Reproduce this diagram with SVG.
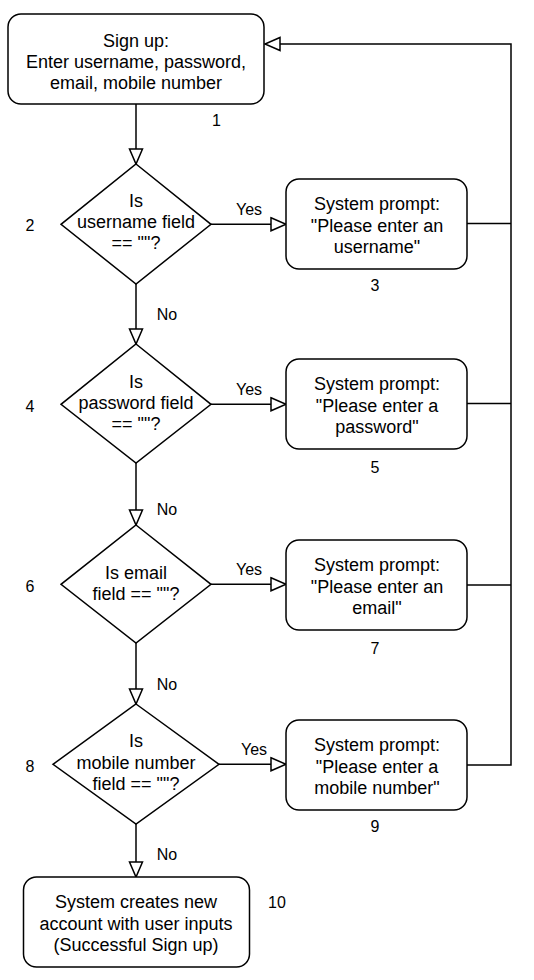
<svg xmlns="http://www.w3.org/2000/svg" width="534" height="980" viewBox="0 0 534 980">
<style>
.n{fill:#fff;stroke:#000;stroke-width:1.5}
.t{font-family:"Liberation Sans",Arial,sans-serif;font-size:18px;fill:#000;text-anchor:middle}
.l{font-family:"Liberation Sans",Arial,sans-serif;font-size:16px;fill:#000;text-anchor:middle}
.c{fill:none;stroke:#000;stroke-width:1.5}
</style>
<defs>
<marker id="a" markerUnits="userSpaceOnUse" markerWidth="17" markerHeight="15" refX="16" refY="7.5" orient="auto" overflow="visible">
<path d="M1,1 L16,7.5 L1,14 Z" fill="#fff" stroke="#000" stroke-width="1.5"/>
</marker>
</defs>
<rect width="534" height="980" fill="#fff"/>
<g id="connectors">
<path class="c" d="M136,104 V164" marker-end="url(#a)"/>
<path class="c" d="M136,284 V344" marker-end="url(#a)"/>
<path class="c" d="M136,463 V525" marker-end="url(#a)"/>
<path class="c" d="M136,643 V704" marker-end="url(#a)"/>
<path class="c" d="M136,824 V877" marker-end="url(#a)"/>
<path class="c" d="M211,224.3 H286" marker-end="url(#a)"/>
<path class="c" d="M211,404.3 H286" marker-end="url(#a)"/>
<path class="c" d="M211,584.3 H286" marker-end="url(#a)"/>
<path class="c" d="M219,764.3 H286" marker-end="url(#a)"/>
<path class="c" d="M467,223.5 H511"/>
<path class="c" d="M467,403.5 H511"/>
<path class="c" d="M467,585 H511"/>
<path class="c" d="M467,765 H511 V44 H265" marker-end="url(#a)"/>
<text class="l" x="249" y="215">Yes</text>
<text class="l" x="249" y="395">Yes</text>
<text class="l" x="249" y="575">Yes</text>
<text class="l" x="254" y="755">Yes</text>
<text class="l" x="167" y="320">No</text>
<text class="l" x="167" y="515">No</text>
<text class="l" x="167" y="690">No</text>
<text class="l" x="167" y="860">No</text>
</g>
<g id="n1">
<rect class="n" x="8" y="14" width="256" height="90" rx="13"/>
<text class="t" x="136" y="46.5">Sign up:</text>
<text class="t" x="136" y="67.8">Enter username, password,</text>
<text class="t" x="136" y="89">email, mobile number</text>
<text class="l" x="216.5" y="126">1</text>
</g>
<g id="n2">
<path class="n" d="M136,164 L211,224.3 L136,284 L61,224.3 Z"/>
<text class="t" x="136" y="206.5">Is</text>
<text class="t" x="136" y="227.5">username field</text>
<text class="t" x="136" y="248.5">== ""?</text>
<text class="l" x="30" y="231">2</text>
</g>
<g id="n3">
<rect class="n" x="286" y="179" width="181" height="90" rx="13"/>
<text class="t" x="377" y="210">System prompt:</text>
<text class="t" x="377" y="231.5">"Please enter an</text>
<text class="t" x="377" y="253">username"</text>
<text class="l" x="375" y="291">3</text>
</g>
<g id="n4">
<path class="n" d="M136,344 L211,404.3 L136,463 L61,404.3 Z"/>
<text class="t" x="136" y="387.5">Is</text>
<text class="t" x="136" y="409">password field</text>
<text class="t" x="136" y="430">== ""?</text>
<text class="l" x="30" y="412">4</text>
</g>
<g id="n5">
<rect class="n" x="286" y="359" width="181" height="90" rx="13"/>
<text class="t" x="377" y="390">System prompt:</text>
<text class="t" x="377" y="411.5">"Please enter a</text>
<text class="t" x="377" y="432.5">password"</text>
<text class="l" x="375" y="472.5">5</text>
</g>
<g id="n6">
<path class="n" d="M136,525 L211,584.3 L136,643 L61,584.3 Z"/>
<text class="t" x="136" y="578.5">Is email</text>
<text class="t" x="136" y="599.5">field == ""?</text>
<text class="l" x="30" y="592">6</text>
</g>
<g id="n7">
<rect class="n" x="286" y="540" width="181" height="90" rx="13"/>
<text class="t" x="377" y="571">System prompt:</text>
<text class="t" x="377" y="592.5">"Please enter an</text>
<text class="t" x="377" y="614">email"</text>
<text class="l" x="375" y="654">7</text>
</g>
<g id="n8">
<path class="n" d="M136,704 L219,764.3 L136,824 L53,764.3 Z"/>
<text class="t" x="136" y="747">Is</text>
<text class="t" x="136" y="768.5">mobile number</text>
<text class="t" x="136" y="790">field == ""?</text>
<text class="l" x="30" y="772">8</text>
</g>
<g id="n9">
<rect class="n" x="286" y="720" width="181" height="90" rx="13"/>
<text class="t" x="377" y="751">System prompt:</text>
<text class="t" x="377" y="772.5">"Please enter a</text>
<text class="t" x="377" y="794">mobile number"</text>
<text class="l" x="375" y="832">9</text>
</g>
<g id="n10">
<rect class="n" x="23.5" y="877" width="226" height="90" rx="13"/>
<text class="t" x="136" y="908">System creates new</text>
<text class="t" x="136" y="929.5">account with user inputs</text>
<text class="t" x="136" y="951">(Successful Sign up)</text>
<text class="l" x="277" y="907.5">10</text>
</g>
</svg>
